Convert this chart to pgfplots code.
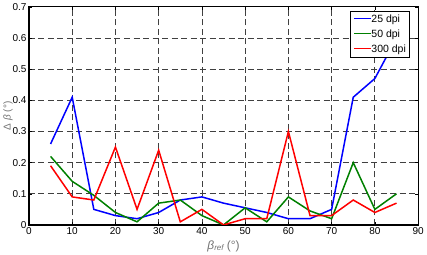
\documentclass[border=0pt]{standalone}
\usepackage{pgfplots}
\pgfplotsset{compat=1.18}
\usepackage{fontspec}
\setmainfont{Liberation Sans}
\definecolor{mblue}{RGB}{0,0,255}
\definecolor{mgreen}{RGB}{0,128,0}
\definecolor{mred}{RGB}{255,0,0}
\newcommand{\lgline}[1]{\textcolor{#1}{\rule[0.3em]{17pt}{1.5pt}}}
\begin{document}
\begin{tikzpicture}
\begin{axis}[
  width=389pt, height=218pt, scale only axis,
  xmin=0, xmax=90, ymin=0, ymax=0.7,
  xtick={0,10,...,90}, ytick={0,0.1,...,0.7},
  yticklabels={0,0.1,0.2,0.3,0.4,0.5,0.6,0.7},
  /pgf/number format/assume math mode=true,
  tick align=inside, major tick length=3pt,
  tick style={black, thin},
  font=\fontsize{10}{12}\selectfont,
  xticklabel style={yshift=1pt},
  yticklabel style={xshift=1pt},
  grid=major,
  major grid style={black!75, dash pattern=on 6pt off 3.5pt, line width=0.8pt},
  axis line style={black, line width=1.2pt},
  xlabel={\textit{β}\textsubscript{\textit{ref}}\,(°)},
  ylabel={Δ \textit{β} (°)},
  xlabel style={text=black!55, font=\fontsize{12}{14}\selectfont, yshift=1pt},
  ylabel style={text=black!55, font=\fontsize{10}{12}\selectfont, yshift=-7pt},
  legend style={at={(rel axis cs:0.979,0.982)}, anchor=north east,
    draw=black, line width=1pt, font=\fontsize{10.5}{12.5}\selectfont,
    inner sep=1.5pt, row sep=2pt},
  legend cell align=left,
  legend image code/.code={},
]
\addplot[color=mblue, line width=1.5pt] coordinates {
(5,0.26)(10,0.41)(15,0.05)(20,0.03)(25,0.02)(30,0.04)(35,0.08)(40,0.09)
(45,0.07)(50,0.055)(55,0.04)(60,0.02)(65,0.02)(70,0.05)(75,0.41)(80,0.47)(85,0.6)};
\addlegendentry{\lgline{mblue}25 dpi}
\addplot[color=mgreen, line width=1.5pt] coordinates {
(5,0.22)(10,0.14)(15,0.095)(20,0.04)(25,0.01)(30,0.07)(35,0.08)(40,0.03)
(45,0.0)(50,0.055)(55,0.01)(60,0.09)(65,0.045)(70,0.02)(75,0.2)(80,0.05)(85,0.1)};
\addlegendentry{\lgline{mgreen}50 dpi}
\addplot[color=mred, line width=1.5pt] coordinates {
(5,0.19)(10,0.09)(15,0.08)(20,0.25)(25,0.05)(30,0.24)(35,0.01)(40,0.05)
(45,0.0)(50,0.02)(55,0.02)(60,0.3)(65,0.03)(70,0.03)(75,0.08)(80,0.04)(85,0.07)};
\addlegendentry{\lgline{mred}300 dpi}
\end{axis}
\end{tikzpicture}
\end{document}
